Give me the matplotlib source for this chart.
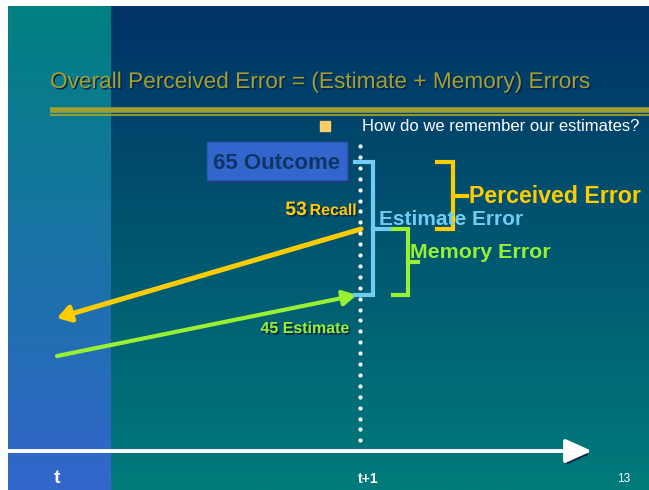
import numpy as np
import matplotlib.pyplot as plt
import matplotlib.patheffects as pe
from matplotlib.patches import FancyArrowPatch, Rectangle
from matplotlib.colors import to_rgb

# slide content
title = "Overall Perceived Error = (Estimate + Memory) Errors"
question = "How do we remember our estimates?"
levels = ["Outcome", "Recall", "Estimate"]
values = [65, 53, 45]
errors = ["Estimate Error", "Memory Error", "Perceived Error"]
time_labels = ["t", "t+1"]
page_no = "13"

# layout (pixels)
W, H = 649, 490
level_y = {"Outcome": 162, "Recall": 229, "Estimate": 295}
time_x = {"t": 57, "t+1": 360}

navy_shadow = "#0a2148"
yellow = "#ffcc00"
green = "#99f033"
light_blue = "#70ccf2"
olive = "#a0a032"
SANS = ["Liberation Sans", "DejaVu Sans"]


def gradient(c_top, c_bot, n=256):
    t = np.linspace(0, 1, n)[:, None, None]
    a, b = np.array(to_rgb(c_top)), np.array(to_rgb(c_bot))
    return a * (1 - t) + b * t


fig = plt.figure(figsize=(W / 100, H / 100), dpi=100)
ax = fig.add_axes([0, 0, 1, 1])
ax.imshow(gradient("#003366", "#007b7b"), extent=(111, W, H, 7), aspect="auto", origin="upper", zorder=0)
ax.imshow(gradient("#008080", "#3366cc"), extent=(8, 111, H, 7), aspect="auto", origin="upper", zorder=0)
ax.set_xlim(0, W)
ax.set_ylim(H, 0)
ax.axis("off")

txt_shadow = lambda off=1.2: [pe.withSimplePatchShadow(offset=(off, -off), shadow_rgbFace=navy_shadow, alpha=1)]

# title and rule
ttl = ax.text(50, 88, title, fontsize=18, color=olive, family=SANS,
              va="baseline", ha="left", path_effects=txt_shadow(1.0))
fig.canvas.draw()
w = ttl.get_window_extent().width
ttl.set_fontsize(18 * 540 / w)  # squeeze to the slide's title width
ax.plot([50, W], [110, 110], color=olive, lw=4, solid_capstyle="butt")
ax.plot([50, W], [115, 115], color=olive, lw=1.3, solid_capstyle="butt")

# bullet
ax.plot(325, 126, marker="s", ms=6.5, color="#ffcc66", mec="#ffcc66")
ax.text(362, 126, question, fontsize=12, color="white", family=SANS, va="center", ha="left")

# dotted time marker
dots_y = np.arange(146, 450, 10.9)
ax.scatter(np.full(len(dots_y), time_x["t+1"]), dots_y, s=9, color="white", zorder=5, lw=0)

# outcome box
ax.add_patch(Rectangle((210, 145), 140, 38, fc="#1c3c70", ec="none", zorder=3))
ax.add_patch(Rectangle((207, 142), 140, 38, fc="#3366cc", ec="#2a5ab8", lw=1, zorder=4))
ax.text(213, 169, f"{values[0]} {levels[0]}", fontsize=16, fontweight="bold", color="#0f3566",
        family=SANS, va="baseline", ha="left", zorder=5)

# recall arrow (memory drifting back to t)
yR, yE = level_y["Recall"], level_y["Estimate"]
rec = FancyArrowPatch((361, yR), (57, 318), arrowstyle="-|>,head_length=0.55,head_width=0.35",
                      mutation_scale=14, lw=3.6, color=yellow, shrinkA=0, shrinkB=0, zorder=4,
                      path_effects=[pe.withSimplePatchShadow(offset=(1.2, -2.0), shadow_rgbFace=navy_shadow, alpha=1)])
ax.add_patch(rec)
ax.text(307, 215, f"{values[1]}", fontsize=14, fontweight="bold", color=yellow, family=SANS,
        ha="right", va="baseline", path_effects=txt_shadow(), zorder=5)
ax.text(357, 215, levels[1], fontsize=11.5, fontweight="bold", color=yellow, family=SANS,
        ha="right", va="baseline", path_effects=txt_shadow(), zorder=5)

# estimate arrow (t -> t+1)
est = FancyArrowPatch((57, 356), (357, yE), arrowstyle="-|>,head_length=0.55,head_width=0.3",
                      mutation_scale=15, lw=3.0, color=green, shrinkA=0, shrinkB=0, zorder=4)
ax.add_patch(est)
ax.text(350, 333, f"{values[2]} {levels[2]}", fontsize=11.5, fontweight="bold", color=green,
        family=SANS, ha="right", va="baseline", path_effects=txt_shadow(), zorder=5)

# brackets
yO = level_y["Outcome"]
ax.plot([355, 373, 373, 355], [yO, yO, yE, yE], color=light_blue, lw=3, solid_joinstyle="miter", zorder=4)
ax.plot([373, 389], [yR, yR], color=light_blue, lw=3, zorder=4)
ax.plot([437, 453, 453, 437], [yO, yO, yR, yR], color=yellow, lw=3, solid_joinstyle="miter", zorder=4)
ax.plot([453, 467], [196, 196], color=yellow, lw=3, zorder=4)
ax.plot([393, 408, 408, 393], [yR, yR, yE, yE], color=green, lw=3, solid_joinstyle="miter", zorder=4)
ax.plot([408, 418], [262, 262], color=green, lw=3, zorder=4)

ax.text(379, 225, errors[0], fontsize=15, fontweight="bold", color=light_blue, family=SANS,
        ha="left", va="baseline", zorder=6)
ax.text(410, 258, errors[1], fontsize=15.4, fontweight="bold", color=green, family=SANS,
        ha="left", va="baseline", zorder=6)
ax.text(469, 203, errors[2], fontsize=16.7, fontweight="bold", color=yellow, family=SANS,
        ha="left", va="baseline", zorder=6)

# time axis
tl = FancyArrowPatch((8, 451), (592, 451), arrowstyle="-|>,head_length=1.0,head_width=0.45",
                     mutation_scale=16, lw=2.8, color="white", shrinkA=0, shrinkB=0, zorder=5,
                     path_effects=[pe.withSimplePatchShadow(offset=(1.0, -2.6), shadow_rgbFace=navy_shadow, alpha=1)])
ax.add_patch(tl)
ax.text(time_x["t"], 483, time_labels[0], fontsize=14, fontweight="bold", color="white", family=SANS,
        ha="center", va="baseline")
ax.text(time_x["t+1"] + 8, 483, time_labels[1], fontsize=10, fontweight="bold", color="white", family=SANS,
        ha="center", va="baseline")
ax.text(624, 482, page_no, fontsize=8.5, color="white", family=SANS, ha="center", va="baseline")

fig.savefig("out.png", dpi=100)
